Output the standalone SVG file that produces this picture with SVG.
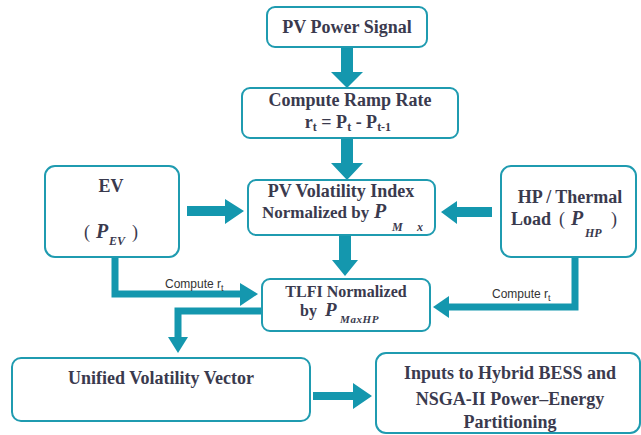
<svg xmlns="http://www.w3.org/2000/svg" width="641" height="435" viewBox="0 0 641 435">
<style>
.box{fill:#ffffff;stroke:#1f9bb0;stroke-width:2}
.t{font-family:'Liberation Serif','Times New Roman',serif;font-weight:bold;font-size:18px;fill:#3a3a4e;text-anchor:middle}
.s{text-anchor:start}
.i{font-style:italic}
.n{font-weight:normal}
.sub{font-size:12px}
.lbl{font-family:'Liberation Sans',Arial,sans-serif;font-size:12px;fill:#333333}
.lsub{font-size:9px}
.arr{fill:#1497ae}
.ln{fill:none;stroke:#1497ae;stroke-width:7}
</style>
<rect width="641" height="435" fill="#ffffff"/>
<g id="connectors">
<polygon class="arr" points="341,47 353,47 353,72 363,72 347,88 331,72 341,72"/>
<polygon class="arr" points="341,138 353,138 353,163 363,163 347,180 331,163 341,163"/>
<polygon class="arr" points="339,235 351,235 351,260 358,260 345,276 332,260 339,260"/>
<polygon class="arr" points="187,206 225,206 225,199 244,211 225,224 225,216 187,216"/>
<polygon class="arr" points="492,207 457,207 457,201 441,212 457,224 457,217 492,217"/>
<path class="ln" d="M115,257 V294 H241"/>
<polygon class="arr" points="240,283 258,294 240,306"/>
<path class="ln" d="M575,257 V307 H448"/>
<polygon class="arr" points="449,296 433,307 449,318"/>
<path class="ln" d="M262,311 H178 V338"/>
<polygon class="arr" points="168,337 178,353 188,337"/>
<polygon class="arr" points="313,392 353,392 353,383 372,396 353,409 353,400 313,400"/>
<text class="lbl" x="165" y="288">Compute r<tspan class="lsub" dy="3">t</tspan></text>
<text class="lbl" x="492" y="298">Compute r<tspan class="lsub" dy="3">t</tspan></text>
</g>
<g id="pv-signal">
<rect class="box" x="267" y="7" width="160" height="40" rx="8"/>
<text class="t" x="347" y="33">PV Power Signal</text>
</g>
<g id="ramp-rate">
<rect class="box" x="242" y="88" width="216" height="50" rx="8"/>
<text class="t" x="350" y="106">Compute Ramp Rate</text>
<text class="t" x="348" y="128">r<tspan class="sub" dy="3">t</tspan><tspan dy="-3"> = P</tspan><tspan class="sub" dy="3">t</tspan><tspan dy="-3"> - P</tspan><tspan class="sub" dy="3">t-1</tspan></text>
</g>
<g id="pv-volatility">
<rect class="box" x="248" y="180" width="187" height="55" rx="8"/>
<text class="t" x="341" y="197">PV Volatility Index</text>
<text class="t s" x="262" y="218" style="font-size:17px">Normalized by</text>
<text class="t s i" x="374" y="218" style="font-size:20px">P</text>
<text class="t s i sub" x="392" y="231">M</text>
<text class="t s i sub" x="417" y="231">x</text>
</g>
<g id="ev">
<rect class="box" x="45" y="166" width="134" height="91" rx="10"/>
<text class="t" x="111" y="192">EV</text>
<text class="t s n" x="84" y="238">(</text>
<text class="t s i" x="96" y="238" style="font-size:20px">P</text>
<text class="t s i sub" x="109" y="245">EV</text>
<text class="t s n" x="132" y="238">)</text>
</g>
<g id="hp-thermal">
<rect class="box" x="501" y="166" width="135" height="91" rx="10"/>
<text class="t" x="570" y="203">HP / Thermal</text>
<text class="t s" x="511" y="225">Load</text>
<text class="t s n" x="559" y="225">(</text>
<text class="t s i" x="571" y="225" style="font-size:20px">P</text>
<text class="t s i sub" x="585" y="237">HP</text>
<text class="t s n" x="611" y="225">)</text>
</g>
<g id="tlfi">
<rect class="box" x="262" y="279" width="168" height="52" rx="8"/>
<text class="t" x="346" y="297" style="font-size:16px">TLFI Normalized</text>
<text class="t s" x="300" y="316" style="font-size:16px">by</text>
<text class="t s i" x="325" y="316" style="font-size:19px">P</text>
<text class="t s i" x="340" y="323" style="font-size:11px;letter-spacing:0.6px">MaxHP</text>
</g>
<g id="unified">
<rect class="box" x="12" y="358" width="298" height="63" rx="9"/>
<text class="t" x="161" y="384">Unified Volatility Vector</text>
</g>
<g id="inputs">
<rect class="box" x="376" y="353" width="264" height="80" rx="10"/>
<text class="t" x="510" y="379">Inputs to Hybrid BESS and</text>
<text class="t" x="510" y="405">NSGA-II Power–Energy</text>
<text class="t" x="510" y="428">Partitioning</text>
</g>
</svg>
